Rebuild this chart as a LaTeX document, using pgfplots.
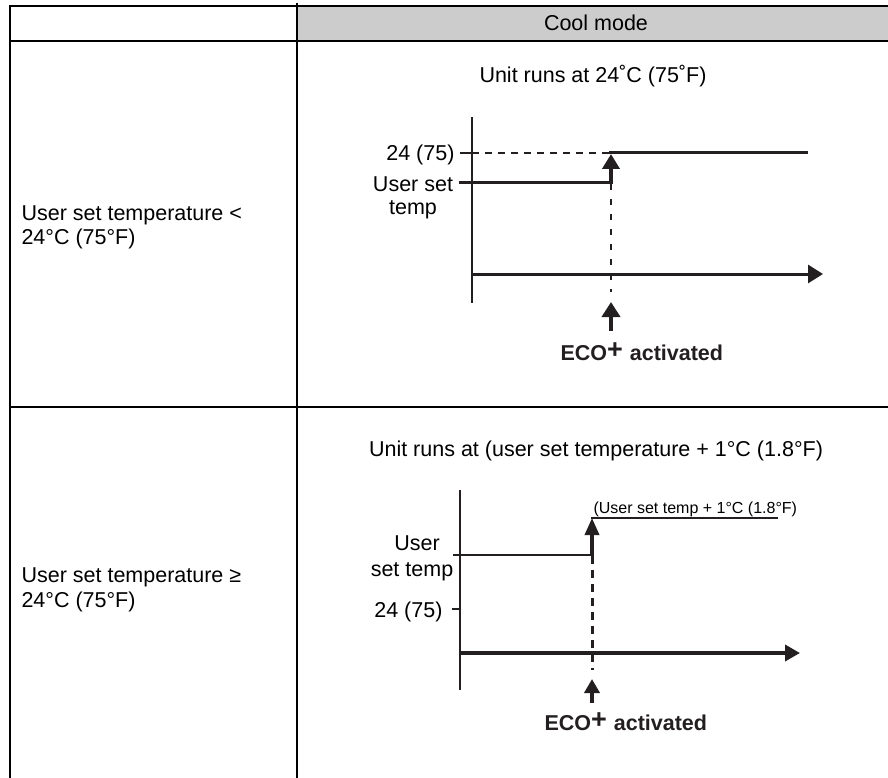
\documentclass[border=0pt]{standalone}
\usepackage{pgfplots}
\pgfplotsset{compat=1.18}
\usetikzlibrary{arrows.meta}
\usepackage{fontspec}
\setmainfont{Liberation Sans}
\definecolor{ink}{HTML}{231F20}
\definecolor{hdr}{HTML}{CCCCCC}
\newcommand{\fs}{\fontsize{21.5}{24}\selectfont}
\newcommand{\fsm}{\fontsize{16}{18}\selectfont}
\newcommand{\eco}{\textbf{ECO\raisebox{0.06em}{\fontsize{27}{27}\selectfont\bfseries +}\hspace{1pt} activated}}
\begin{document}
\begin{tikzpicture}
\useasboundingbox (0,0) rectangle (888pt,778pt);
\begin{axis}[
  at={(0,0)}, anchor=south west,
  width=888pt, height=778pt, scale only axis,
  xmin=0, xmax=888, ymin=0, ymax=778, y dir=reverse,
  axis lines=none, clip=false,
]
% ---- table ----
\addplot[fill=hdr, draw=none] coordinates {(297,6) (888,6) (888,41) (297,41) (297,6)};
\addplot[black, line width=1.8pt] coordinates {(10,6) (888,6)};
\addplot[black, line width=1.8pt] coordinates {(10,41) (888,41)};
\addplot[black, line width=2.4pt] coordinates {(10,407) (888,407)};
\addplot[black, line width=2.2pt] coordinates {(10,5) (10,778)};
\addplot[black, line width=1.6pt] coordinates {(297,3) (297,778)};
\node[anchor=base, font=\fs] at (axis cs:596,31) {Cool mode};
\node[anchor=base west, font=\fs] at (axis cs:18,220) {User set temperature <};
\node[anchor=base west, font=\fs] at (axis cs:18,244) {24°C (75°F)};
\node[anchor=base west, font=\fs] at (axis cs:18,582) {User set temperature ≥};
\node[anchor=base west, font=\fs] at (axis cs:18,607) {24°C (75°F)};
% ---- row 1 diagram ----
\node[anchor=base, font=\fs] at (axis cs:593,83) {Unit runs at 24˚C (75˚F)};
\addplot[ink, line width=2.5pt] coordinates {(472,117) (472,303)};
\addplot[ink, line width=2pt] coordinates {(460,153) (472,153)};
\addplot[ink, line width=1.6pt, dash pattern=on 7pt off 6pt] coordinates {(472,153) (611,153)};
\addplot[ink, line width=3pt] coordinates {(609,153) (808,153)};
\addplot[ink, line width=3pt] coordinates {(459,183) (611,183)};
\addplot[ink, line width=4pt, -{Triangle[width=17pt,length=15pt]}] coordinates {(611,184.5) (611,154)};
\addplot[ink, line width=2pt, dash pattern=on 6pt off 9pt] coordinates {(611,184) (611,292)};
\addplot[ink, line width=3pt, -{Triangle[width=18pt,length=15pt]}] coordinates {(472,274) (823,274)};
\addplot[ink, line width=4.5pt, -{Triangle[width=18pt,length=15pt]}] coordinates {(611,331) (611,302)};
\node[anchor=base east, font=\fs] at (axis cs:458,161) {24 (75)};
\node[anchor=base, font=\fs] at (axis cs:413,191) {User set};
\node[anchor=base, font=\fs] at (axis cs:413,214) {temp};
\node[anchor=base west, font=\fs, text=ink] at (axis cs:557,360) {\eco};
% ---- row 2 diagram ----
\node[anchor=base, font=\fs] at (axis cs:596,456) {Unit runs at (user set temperature + 1°C (1.8°F)};
\addplot[ink, line width=2.5pt] coordinates {(460,490) (460,690)};
\addplot[ink, line width=2.5pt] coordinates {(452,609) (460,609)};
\addplot[ink, line width=2.5pt] coordinates {(591,518) (778,518)};
\addplot[ink, line width=2.5pt] coordinates {(453,555) (592,555)};
\addplot[ink, line width=3.5pt, -{Triangle[width=14pt,length=17pt]}] coordinates {(592,556) (592,518)};
\addplot[ink, line width=3pt, dash pattern=on 8pt off 6pt] coordinates {(592,556) (592,670)};
\addplot[ink, line width=3.5pt, -{Triangle[width=16pt,length=15pt]}] coordinates {(460,653) (800,653)};
\addplot[ink, line width=4pt, -{Triangle[width=15pt,length=14pt]}] coordinates {(592,703) (592,679)};
\node[anchor=base west, font=\fsm] at (axis cs:590,513) {(User set temp + 1°C (1.8°F)};
\node[anchor=base east, font=\fs] at (axis cs:446,617) {24 (75)};
\node[anchor=base, font=\fs] at (axis cs:417,550) {User};
\node[anchor=base, font=\fs] at (axis cs:412,576) {set temp};
\node[anchor=base west, font=\fs, text=ink] at (axis cs:541,730) {\eco};
\end{axis}
\end{tikzpicture}
\end{document}
